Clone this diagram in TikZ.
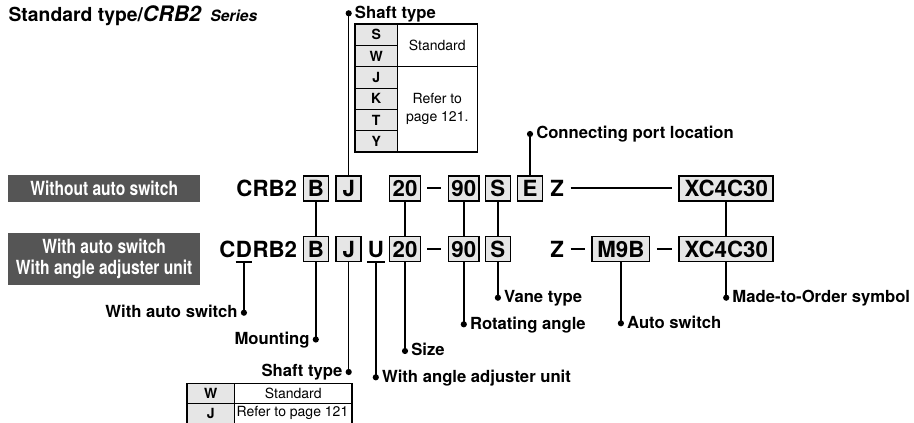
\documentclass[tikz,border=0pt]{standalone}
\usepackage{fontspec}
\setmainfont{TeX Gyre Heros}
\newfontfamily\narrowfont[FakeStretch=0.8]{TeX Gyre Heros}
\usetikzlibrary{positioning,calc}
\definecolor{boxgray}{HTML}{E6E6E6}
\definecolor{bandgray}{HTML}{555555}
\tikzset{
  pcode/.style={font=\fontsize{16.7}{20}\selectfont\bfseries, inner sep=0pt, text height=12pt, text depth=0pt},
  codebox/.style={pcode, draw, line width=1.1pt, fill=boxgray, minimum width=18.75pt, minimum height=18.75pt, inner xsep=2.2pt},
  widebox/.style={codebox, inner xsep=4pt},
  link/.style={line width=1.1pt},
  dashbar/.style={line width=1.5pt, shorten <=4.8pt, shorten >=4.8pt},
  lbl/.style={font=\fontsize{12.5}{15}\selectfont\bfseries, inner sep=0pt},
  band/.style={fill=bandgray, text=white, minimum width=143.8pt, align=center, inner sep=0pt,
    font=\narrowfont\bfseries\fontsize{14.6}{15.75}\selectfont},
  keycell/.style={draw, fill=boxgray, line width=0.7pt, inner sep=0pt, minimum width=31.7pt,
    minimum height=16pt, font=\fontsize{10.5}{12}\selectfont\bfseries},
  tabtext/.style={inner sep=0pt, align=center, font=\fontsize{10.5}{13.5}\selectfont},
}
\begin{document}
\begin{tikzpicture}[x=0.75pt,y=-0.75pt]
\useasboundingbox (0,0) rectangle (914,423);

% title
\node[anchor=base west, inner sep=0pt, font=\fontsize{14.5}{17}\selectfont\bfseries] (title) at (8.3,21.7)
  {Standard type/{\fontsize{16}{18}\selectfont\itshape CRB2}\hspace{3pt} {\fontsize{11.7}{14}\selectfont\itshape Series}};

% grey bands
\node[band, minimum height=20pt] (bandA) at (104.2,188.4) {Without auto switch};
\node[band, minimum height=38.8pt] (bandB) at (104.2,259.2) {With auto switch\\With angle adjuster unit};

% row 1: without auto switch
\node[pcode, anchor=east] (crb) at (297.3,188.5) {CRB2};
\node[codebox] (b1) at (315.8,188.5) {B};
\node[codebox] (j1) at (348.7,188.5) {J};
\node[codebox] (s1) at (405,188.5) {20};
\node[codebox] (a1) at (463.8,188.5) {90};
\node[codebox] (v1) at (497.9,188.5) {S};
\node[codebox] (e1) at (530,188.5) {E};
\node[pcode, anchor=west] (z1) at (550,188.5) {Z};
\node[widebox] (x1) at (726.2,188.5) {XC4C30};

% row 2: with auto switch
\node[pcode, anchor=east] (cdrb) at (297.3,249.2) {RB2};
\node[pcode, left=0pt of cdrb] (rD) {D};
\node[pcode, left=0pt of rD] (rC) {C};
\node[codebox] (b2) at (315.8,249.2) {B};
\node[codebox] (j2) at (348.7,249.2) {J};
\node[pcode] (u2) at (375.8,249.2) {U};
\node[codebox] (s2) at (405,249.2) {20};
\node[codebox] (a2) at (463.8,249.2) {90};
\node[codebox] (v2) at (497.9,249.2) {S};
\node[pcode, anchor=west] (z2) at (550,249.2) {Z};
\node[widebox] (m2) at (620.9,249.2) {M9B};
\node[widebox] (x2) at (726.2,249.2) {XC4C30};

% dashes
\draw[dashbar] (s1.east) -- (a1.west);
\draw[dashbar] (z1.east) -- (x1.west);
\draw[dashbar] (s2.east) -- (a2.west);
\draw[dashbar] (z2.east) -- (m2.west);
\draw[dashbar] (m2.east) -- (x2.west);

% underlines
\coordinate (uD) at ($(rD.south)+(0,4.5)$);
\coordinate (uU) at ($(u2.south)+(0,4.5)$);
\draw[line width=1.5pt] ($(rD.south west)+(0,4.5)$) -- ($(rD.south east)+(0,4.5)$);
\draw[line width=1.5pt] ($(u2.south west)+(-0.5,4.5)$) -- ($(u2.south east)+(0.5,4.5)$);

% links between the rows
\draw[link] (b1) -- (b2);
\draw[link] (s1) -- (s2);
\draw[link] (a1) -- (a2);
\draw[link] (v1) -- (v2);
\draw[link] (x1) -- (x2);

% label points
\coordinate (dShaftTop) at (j1 |- 0,13.3);
\coordinate (dPort) at (e1 |- 0,134);
\coordinate (dSwitch) at (uD |- 0,312.7);
\coordinate (dMount) at (b2 |- 0,339.5);
\coordinate (dShaftBot) at (j2 |- 0,372);
\coordinate (dAdj) at (uU |- 0,377.3);
\coordinate (dSize) at (s2 |- 0,351);
\coordinate (dAngle) at (a2 |- 0,324.3);
\coordinate (dVane) at (v2 |- 0,297.7);
\coordinate (dAuto) at (m2 |- 0,323.3);
\coordinate (dMade) at (x2 |- 0,297.7);

\draw[link] (j1.north) -- (dShaftTop);
\draw[link] (e1.north) -- (dPort);
\draw[link] (uD) -- (dSwitch);
\draw[link] (b2.south) -- (dMount);
\draw[link] (j2.south) -- (dShaftBot);
\draw[link] (uU) -- (dAdj);
\draw[link] (s2.south) -- (dSize);
\draw[link] (a2.south) -- (dAngle);
\draw[link] (v2.south) -- (dVane);
\draw[link] (m2.south) -- (dAuto);
\draw[link] (x2.south) -- (dMade);

\foreach \d in {dShaftTop,dPort,dSwitch,dMount,dShaftBot,dAdj,dSize,dAngle,dVane,dAuto,dMade}
  \fill (\d) circle[radius=3.1];

% labels
\node[lbl, anchor=base west] (lShaftTop) at ($(dShaftTop)+(6,5)$) {Shaft type};
\node[lbl, anchor=base west] (lPort) at ($(dPort)+(6,5)$) {Connecting port location};
\node[lbl, anchor=base east] (lSwitch) at ($(dSwitch)+(-6,5)$) {With auto switch};
\node[lbl, anchor=base east] (lMount) at ($(dMount)+(-6,5)$) {Mounting};
\node[lbl, anchor=base east] (lShaftBot) at ($(dShaftBot)+(-6,5)$) {Shaft type};
\node[lbl, anchor=base west] (lAdj) at ($(dAdj)+(6,5)$) {With angle adjuster unit};
\node[lbl, anchor=base west] (lSize) at ($(dSize)+(6,5)$) {Size};
\node[lbl, anchor=base west] (lAngle) at ($(dAngle)+(6,5)$) {Rotating angle};
\node[lbl, anchor=base west] (lVane) at ($(dVane)+(6,5)$) {Vane type};
\node[lbl, anchor=base west] (lAuto) at ($(dAuto)+(6,5)$) {Auto switch};
\node[lbl, anchor=base west] (lMade) at ($(dMade)+(6,5)$) {Made-to-Order symbol};

% shaft type table (top)
\foreach \l [count=\i] in {S,W,J,K,T,Y}
  \node[keycell] (st\i) at (376.2,{24+21.33*(\i-0.5)}) {\l};
\draw[line width=0.7pt] (397.3,66.7) -- (477.3,66.7);
\draw[line width=1.1pt] (355,24) rectangle (477.3,152);
\node[tabtext] (stStd) at (437.3,45.3) {Standard};
\node[tabtext] (stRef) at (437.3,109.3) {Refer to\\page 121.};

% shaft type table (bottom)
\foreach \l [count=\i] in {W,J}
  \node[keycell, minimum width=35.6pt, minimum height=15pt] (sb\i) at (210.8,{383.3+20*(\i-0.5)}) {\l};
\draw[line width=0.7pt] (234.5,403.3) -- (352,403.3);
\draw[line width=1.1pt] (187,383.3) rectangle (352,423.3);
\node[tabtext] (sbStd) at (293.2,393.3) {Standard};
\node[tabtext] (sbRef) at (292.5,413.3) {Refer to page 121};
\end{tikzpicture}
\end{document}
